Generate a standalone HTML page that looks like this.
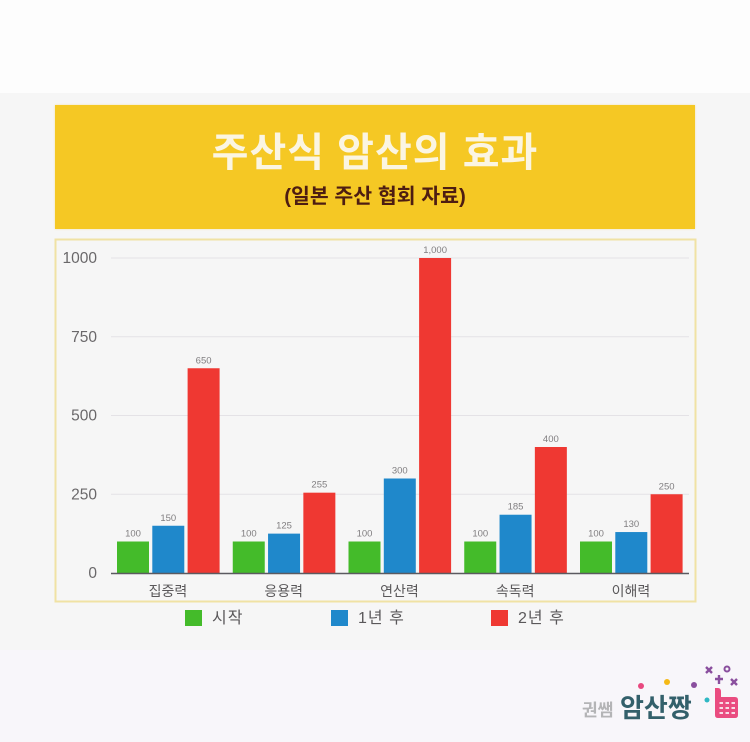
<!DOCTYPE html>
<html lang="ko">
<head>
<meta charset="utf-8">
<title>주산식 암산의 효과</title>
<style>
html,body{margin:0;padding:0;background:#fdfdfd;}
#page{position:relative;width:750px;height:742px;overflow:hidden;background:#fdfdfd;font-family:"Liberation Sans","Noto Sans CJK KR",sans-serif;}
#panel-bg{position:absolute;left:0;top:93px;width:750px;height:557px;background:#f6f6f6;}
#footer-bg{position:absolute;left:0;top:650px;width:750px;height:92px;background:#f8f6fa;}
#banner{position:absolute;left:55px;top:105px;width:640px;height:124px;background:#f5c824;box-shadow:0 0 2px #f3e3a8;}
#title{position:absolute;left:0;width:640px;top:23px;text-align:center;font-size:40px;line-height:50px;font-weight:700;color:#fbf5e2;letter-spacing:1px;}
#subtitle{position:absolute;left:0;width:640px;top:79px;text-align:center;font-size:20.5px;line-height:26px;font-weight:700;color:#4d1d12;}
svg{position:absolute;left:0;top:0;}
</style>
</head>
<body>
<div id="page">
<div id="panel-bg"></div>
<div id="footer-bg"></div>
<div id="banner">
  <div id="title">주산식 암산의 효과</div>
  <div id="subtitle">(일본 주산 협회 자료)</div>
</div>
<svg id="chart" width="750" height="742" xmlns="http://www.w3.org/2000/svg"></svg>
</div>
<script>
const categories = ['집중력', '응용력', '연산력', '속독력', '이해력'];
const seriesNames = ['시작', '1년 후', '2년 후'];
const startValues = [100, 100, 100, 100, 100];
const yearOneValues = [150, 125, 300, 185, 130];
const yearTwoValues = [650, 255, 1000, 400, 250];
const tickValues = [0, 250, 500, 750, 1000];
const tickLabels = ['0', '250', '500', '750', '1000'];

const seriesValues = [startValues, yearOneValues, yearTwoValues];
const seriesColors = ['#44bb2a', '#1f88cb', '#ef3832'];
const FONT = '"Liberation Sans","Noto Sans CJK KR",sans-serif';
const NS = 'http://www.w3.org/2000/svg';
const svg = document.getElementById('chart');

function yScale(v) { return 573 - v * 0.315; }
function groupLeft(i) { return 117 + i * 115.75; }
function barLeft(i, s) { return groupLeft(i) + s * 35.3; }
function make(tag, attrs, text) {
  const el = document.createElementNS(NS, tag);
  for (const k in attrs) el.setAttribute(k, attrs[k]);
  if (text !== undefined) el.textContent = text;
  svg.appendChild(el);
  return el;
}

const frame = make('rect', {x: 55.5, y: 239.5, width: 640, height: 362, fill: '#f6f6f6', stroke: '#f0e2a4', 'stroke-width': 2});



tickValues.forEach(function (t, i) {
  const y = yScale(t);
  if (t !== 0) {
    const grid = make('line', {x1: 111, x2: 689, y1: y, y2: y, stroke: '#e4e2e6', 'stroke-width': 1});
    
    
  }
  const label = make('text', {x: 97, y: y + 5, 'text-anchor': 'end', 'font-size': 15.5, 'font-family': FONT, fill: '#6a686a'}, tickLabels[i]);
  
  
});

categories.forEach(function (c, i) {
  seriesValues.forEach(function (values, s) {
    const v = values[i];
    const bar = make('rect', {x: barLeft(i, s), y: yScale(v), width: 32, height: yScale(0) - yScale(v), fill: seriesColors[s]});
    
    
    const printed = v.toLocaleString('en-US');
    const lab = make('text', {x: barLeft(i, s) + 16, y: yScale(v) - 5, 'text-anchor': 'middle', 'font-size': 9.5, 'font-family': FONT, fill: '#807e80'}, printed);
    
    
  });
  const catLabel = make('text', {x: groupLeft(i) + 51, y: 596, 'text-anchor': 'middle', 'font-size': 14, 'font-family': FONT, fill: '#5a585a'}, c);
  
  
});

const axis = make('line', {x1: 111, x2: 689, y1: 573.5, y2: 573.5, stroke: '#5b5a60', 'stroke-width': 1.5});



const legendSwatchX = [185, 331, 491];
const legendTextX = [212, 358, 518];
seriesNames.forEach(function (n, s) {
  const sw = make('rect', {x: legendSwatchX[s], y: 610, width: 17, height: 16, fill: seriesColors[s]});
  
  
  const tx = make('text', {x: legendTextX[s], y: 623, 'font-size': 16, 'font-family': FONT, fill: '#5a585a', 'letter-spacing': 1}, n);
  
  
});

/* logo */
const logoA = make('text', {x: 582, y: 716, 'font-size': 17, 'font-weight': 700, 'font-family': FONT, fill: '#b4b4b6'}, '권쌤');


const logoB = make('text', {x: 620, y: 717, 'font-size': 26, 'font-weight': 700, 'font-family': FONT, fill: '#33606b'}, '암산짱');


const dotX = [641, 667, 694, 707];
const dotY = [686, 682, 685, 700];
const dotC = ['#e8487f', '#f5b916', '#8a4f9e', '#2fb8c4'];
dotX.forEach(function (x, i) {
  const d = make('circle', {cx: x, cy: dotY[i], r: i === 3 ? 2.5 : 3, fill: dotC[i]});
  
  
});
const icon = make('path', {d: 'M715 688 Q715 688 718 688 Q721 688 721 692 V697 H735 Q738 697 738 700 V715 Q738 718 735 718 H718 Q715 718 715 715 Z', fill: '#ea4c80'});


[703, 708, 713].forEach(function (y) {
  [721, 727, 733].forEach(function (x) {
    const k = make('rect', {x: x - 1.5, y: y - 1, width: 3.5, height: 2, fill: '#f8dce6'});
    
    
  });
});
const sym = make('path', {d: 'M706 667 L712 673 M712 667 L706 673 M719 675 V684 M715 679 H723 M731 679 L737 685 M737 679 L731 685', stroke: '#8a4f9e', 'stroke-width': 2.4, fill: 'none'});


const ring = make('circle', {cx: 727, cy: 669, r: 2.5, fill: 'none', stroke: '#8a4f9e', 'stroke-width': 2});


</script>
</body>
</html>
